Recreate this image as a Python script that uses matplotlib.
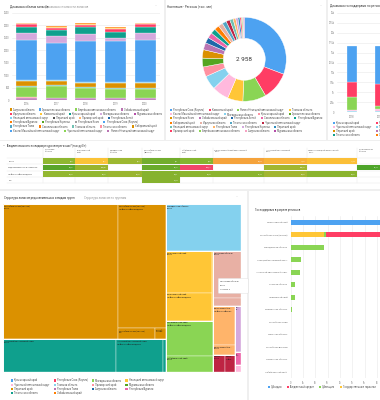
import math
import matplotlib
matplotlib.use("Agg")
import matplotlib.pyplot as plt
from matplotlib.patches import Rectangle, FancyBboxPatch
from matplotlib.font_manager import FontProperties

plt.rcParams['font.family'] = ['Roboto', 'DejaVu Sans']

# ---------------------------------------------------------------- data
years = ["2016", "2017", "2018", "2019", "2020"]
stack_regions = ["Ямало-Ненецкий автономный округ", "Тюменская область", "Чукотский автономный округ",
                 "Томская область", "Хабаровский край", "Ненецкий автономный округ",
                 "Республика Саха (Якутия)", "Магаданская область", "Красноярский край",
                 "Иркутская область", "Камчатский край", "Приморский край", "Республика Бурятия"]
reserves = [
    [85, 80, 80, 75, 80],
    [20, 20, 20, 20, 20],
    [430, 450, 400, 360, 360],
    [35, 35, 30, 30, 30],
    [190, 190, 170, 200, 190],
    [30, 30, 30, 30, 30],
    [1600, 1480, 1620, 1650, 1700],
    [290, 290, 290, 130, 270],
    [240, 240, 270, 230, 240],
    [120, 90, 110, 130, 120],
    [25, 20, 20, 20, 20],
    [25, 20, 20, 20, 20],
    [15, 15, 15, 15, 15],
]
legend1_regions = ["Амурская область", "Архангельская область", "Еврейская автономная область",
                   "Забайкальский край", "Иркутская область", "Камчатский край", "Красноярский край",
                   "Магаданская область", "Мурманская область", "Ненецкий автономный округ",
                   "Пермский край", "Приморский край", "Республика Алтай", "Республика Бурятия",
                   "Республика Карелия", "Республика Коми", "Республика Саха (Якутия)",
                   "Республика Тыва", "Сахалинская область", "Томская область", "Тюменская область",
                   "Хабаровский край", "Ханты-Мансийский автономный округ",
                   "Чукотский автономный округ", "Ямало-Ненецкий автономный округ"]

pop_regions = ["Республика Саха (Якутия)", "Камчатский край", "Ямало-Ненецкий автономный округ",
               "Томская область", "Ханты-Мансийский автономный округ", "Магаданская область",
               "Красноярский край", "Архангельская область", "Республика Коми", "Забайкальский край",
               "Республика Алтай", "Сахалинская область", "Республика Бурятия", "Хабаровский край",
               "Иркутская область", "Тюменская область", "Чукотский автономный округ",
               "Ненецкий автономный округ", "Республика Тыва", "Республика Карелия",
               "Пермский край", "Приморский край", "Еврейская автономная область",
               "Амурская область", "Мурманская область"]
pop_values = [910, 320, 265, 175, 190, 160, 112, 100, 96, 80, 65, 62, 58, 55, 52, 48, 44, 38,
              30, 26, 22, 18, 14, 10, 8]

gov_years = ["2018", "2019"]
gov_stack_regions = ["Томская область", "Чукотский автономный округ", "Магаданская область",
                     "Республика Саха (Якутия)", "Красноярский край"]
gov_stack_values = [
    [250, 250],
    [330, 500],
    [3300, 830],
    [3750, 5400],
    [9000, 9600],
]
group_legend_regions = ["Красноярский край", "Республика Саха (Якутия)", "Магаданская область",
                        "Ненецкий автономный округ", "Чукотский автономный округ", "Томская область",
                        "Приморский край", "Мурманская область", "Пермский край", "Республика Тыва",
                        "Амурская область", "Республика Бурятия", "Тюменская область",
                        "Забайкальский край"]

table_columns = ["Иркутская\nобласть", "Красноярский\nкрай", "Магаданская\nобласть",
                 "Республика Саха\n(Якутия)", "Забайкальский\nкрай",
                 "Ханты-Мансийский автономный\nокруг", "Чукотский автономный\nокруг",
                 "Ямало-Ненецкий автономный\nокруг", "Архангельская\nобласть"]
table_rows = ["Уголь", "Редкоземельные и стальные", "Нефть и нефтепродукты", "Газ"]
table_values = [
    [6.72, 8.67, 7.83, 3.21, 4.57, 12.54, 11.80, 11.34, None],
    [15.06, 190.28, None, 84.21, 566.67, None, 108.79, None, 14.30],
    [87.00, 86.02, 87.00, 88.81, 88.20, 88.49, 88.80, 89.80, None],
    [None, None, None, 64.80, None, None, None, None, None],
]
table_colors = [
    ["#8fb731", "#fbc337", "#9db831", "#72ad2d", "#84b52f", "#f5a33c", "#f8b13a", "#fbbf38", None],
    ["#59a52b", "#9ab42e", None, "#6aab2c", "#f2466a", None, "#a2b631", None, "#4ea52a"],
    ["#93b731", "#93b731", "#9ab530", "#86b22e", "#8bb42e", "#8bb42e", "#a2b631", "#8bb42e", None],
    [None, None, None, "#86b22e", None, None, None, None, None],
]

tm_regions = ["Республика Саха (Якутия)", "Чукотский автономный округ", "Магаданская область",
              "Красноярский край", "Забайкальский край", "Иркутская область",
              "Ханты-Мансийский автономный округ", "Камчатский край", "Республика Тыва",
              "Тюменская область", "Приморский край"]
tm_resources = [
    ["Уголь", "Нефть и нефтепродукты", "Газ", "Прочие"],
    ["Уголь", "Нефть и нефтепродукты", "Прочие"],
    ["Уголь"],
    ["Уголь", "Нефть и нефтепродукты", "Прочие"],
    ["Нефть и нефтепродукты", "Уголь"],
    ["Уголь", "Нефть и нефтепродукты"],
    ["Нефть и нефтепродукты", "Уголь"],
    ["Уголь", "Нефть и нефтепродукты"],
    ["Уголь"],
    ["Прочие"],
    ["Уголь"],
]
tm_values = [
    [1553, 592, 40, 12],
    [371, 156, 10],
    [353],
    [189, 129, 9],
    [169, 75],
    [130, 22],
    [84, 21],
    [20, 17],
    [29],
    [8],
    [4.5],
]

bar_regions = ["Красноярский край", "Республика Саха (Якутия)", "Магаданская область",
               "Ненецкий автономный округ", "Чукотский автономный округ", "Томская область",
               "Приморский край", "Мурманская область", "Республика Тыва", "Амурская область",
               "Республика Бурятия", "Тюменская область", "Забайкальский край"]
support_types = ["Субсидии", "Бюджетный кредит", "Субвенции", "Государственные гарантии"]
subsidii = [8.2, 0, 0, 0, 0, 0, 0, 0, 0, 0, 0, 0, 0]
kredit = [0, 5.0, 0, 0, 0, 0, 0, 0, 0, 0, 0, 0, 0]
subvencii = [0, 0.2, 2.7, 0.86, 0.78, 0.38, 0.32, 0.08, 0.05, 0.03, 0.01, 0.005, 0.003]
garantii = [0, 2.7, 0, 0, 0, 0, 0, 0, 0, 0, 0, 0, 0]
bar_ticks = ["0", "1k", "2k", "3k", "4k", "5k", "6k", "7k"]

# ---------------------------------------------------------------- styles
PAL = ['#4DA2F1', '#FF3D64', '#8AD554', '#FFC636', '#FFB9DD', '#84D1EE', '#FF91A1', '#54A520',
       '#DB9100', '#BA74B3', '#1F68A9', '#ED65A9', '#0FA08D', '#FF7E00', '#E8B0A4', '#52A6C5',
       '#BE2443', '#70C1B3', '#FFB46A', '#D4A9DD', '#2B8CBE', '#FF3D64', '#8AD554', '#F7A2C3',
       '#B54DA9']
legend1_colors = ['#DB9100', '#4DA2F1', '#8AD554', '#BA74B3', '#FF3D64', '#FFC636', '#0FA08D',
                  '#D4A9DD', '#B54DA9', '#84D1EE', '#555555', '#FFB46A', '#1F68A9', '#FF7E00',
                  '#54A520', '#A0A0A0', '#4DA2F1', '#52A6C5', '#FF7E00', '#70C1B3', '#FF91A1',
                  '#DB9100', '#4DA2F1', '#8AD554', '#BA74B3']
stack_colors = ['#BA74B3', '#FF91A1', '#8AD554', '#70C1B3', '#DB9100', '#84D1EE', '#4DA2F1',
                '#D4A9DD', '#0FA08D', '#FF3D64', '#FFC636', '#FFB46A', '#FF7E00']
gov_stack_colors = ['#84D1EE', '#FFB9DD', '#8AD554', '#FF3D64', '#4DA2F1']
tm_colors = ['#DB9100', '#0FA08D', '#84D1EE', '#FFC636', '#8AD554', '#E8B0A4', '#FFB46A',
             '#BE2443', '#D4A9DD', '#ED65A9', '#FFB9DD']
support_colors = ['#4DA2F1', '#FF3D64', '#8AD554', '#FFC636']

W, H = 380, 400
fig = plt.figure(figsize=(3.8, 4.0), dpi=100)
fig.patch.set_facecolor('#efefef')


def pos(x0, y0, x1, y1):
    return [x0 / W, 1 - y1 / H, (x1 - x0) / W, (y1 - y0) / H]


L = fig.add_axes([0, 0, 1, 1])
L.set_xlim(0, W)
L.set_ylim(H, 0)
L.axis('off')
renderer = fig.canvas.get_renderer()


def text_w(s, fs):
    fp = FontProperties(family=['Roboto', 'DejaVu Sans'], size=fs)
    w, h, d = renderer.get_text_width_height_descent(s, fp, ismath=False)
    return w


def fit(s, maxw, fs):
    if text_w(s, fs) <= maxw:
        return s
    for n in range(len(s) - 1, 0, -1):
        c = s[:n].rstrip() + "…"
        if text_w(c, fs) <= maxw:
            return c
    return None


for (x0, y0, x1, y1) in [(0, 0, 163.5, 139.5), (165.5, 0, 325.5, 139.5), (327.5, 0, 381, 139.5),
                         (0, 141, 381, 188.5), (0, 190.5, 246.5, 401), (248.5, 190.5, 381, 401)]:
    L.add_patch(Rectangle((x0, y0), x1 - x0, y1 - y0, facecolor='white', edgecolor='none', zorder=0))

TXT = '#333333'
GREY = '#9a9a9a'
LEG_FS = 1.8


def title(x, y, s, color=TXT, fs=2.2):
    return L.text(x, y, s, fontsize=fs, color=color, va='center', ha='left', zorder=5)


def dots(x, y):
    L.text(x, y, "···", fontsize=2.6, color='#999999', va='center', ha='center', zorder=5)


def marker(x, y, c, m=2.1):
    L.add_patch(Rectangle((x, y - m / 2), m, m, facecolor=c, edgecolor='none', zorder=5))


def flow_legend(names, colors, x0, y0, xmax, dy, fs=LEG_FS, gap=4.6):
    x, y = x0, y0
    for n, c in zip(names, colors):
        item = 3.2 + text_w(n, fs)
        if x + item > xmax and x > x0:
            x = x0
            y += dy
        marker(x, y, c)
        L.text(x + 3.2, y, n, fontsize=fs, color='#555555', va='center', ha='left', zorder=5)
        x += item + gap


def column_offsets(names, ncols, fs=LEG_FS, gap=4.2):
    widths = [0] * ncols
    for i, n in enumerate(names):
        widths[i % ncols] = max(widths[i % ncols], 3.2 + text_w(n, fs))
    offs, acc = [], 0
    for w in widths:
        offs.append(acc)
        acc += w + gap
    return offs


def col_legend(names, colors, x0, offsets, y0, dy, fs=LEG_FS):
    for i, (n, c) in enumerate(zip(names, colors)):
        x = x0 + offsets[i % len(offsets)]
        y = y0 + (i // len(offsets)) * dy
        if x >= W:
            continue
        marker(x, y, c)
        L.text(x + 3.2, y, n, fontsize=fs, color='#555555', va='center', ha='left', zorder=5)


def style(ax):
    ax.set_facecolor('none')
    for s in ax.spines.values():
        s.set_visible(False)
    ax.tick_params(length=0, labelsize=1.8, labelcolor='#808080', pad=1.7)
    ax.set_axisbelow(True)


# ---------------------------------------------------------------- panel 1
title(10, 6, "Динамика объема запасов")
title(45, 6, "Динамика стоимости запасов", color=GREY)
dots(156, 6)
ax1 = fig.add_axes(pos(11.9, 12.7, 159.9, 100.0))
style(ax1)
bottom = [0] * len(years)
for vals, col in zip(reserves, stack_colors):
    ax1.bar(range(len(years)), vals, bottom=bottom, width=0.71, color=col,
            edgecolor='white', linewidth=0.2)
    bottom = [b + v for b, v in zip(bottom, vals)]
ax1.set_xlim(-0.5, len(years) - 0.5)
ax1.set_ylim(0, 3500)
ax1.set_yticks(range(0, 3501, 500))
ax1.set_xticks(range(len(years)))
ax1.set_xticklabels(years)
ax1.grid(axis='y', color='#e9e9e9', lw=0.4)
flow_legend(legend1_regions, legend1_colors, 10, 109.5, 162, 4.25)

# ---------------------------------------------------------------- panel 2 donut
title(167, 6, "Население - Регионы (тыс. чел)")
dots(321.5, 6)
ax2 = fig.add_axes(pos(202.3, 17.3, 286.3, 101.3))
ax2.pie(pop_values, colors=PAL[:len(pop_values)], startangle=90, counterclock=False, radius=1,
        wedgeprops=dict(width=0.5, edgecolor='white', linewidth=0.3))
ax2.set_xlim(-1, 1)
ax2.set_ylim(-1, 1)
ax2.set_aspect('equal')
total = sum(pop_values)
ax2.text(0, 0, f"{total:,}".replace(",", " "), fontsize=4.6, color='#333333', ha='center', va='center')
flow_legend(pop_regions, PAL[:len(pop_regions)], 170, 110.0, 324, 4.2)

# ---------------------------------------------------------------- panel 3
title(329.5, 6, "Динамика господдержки по регионам")
ax3 = fig.add_axes(pos(337, 12.7, 380, 112.3))
style(ax3)
bottom = [0] * len(gov_years)
for vals, col in zip(gov_stack_values, gov_stack_colors):
    ax3.bar(range(len(gov_years)), vals, bottom=bottom, width=0.374, color=col,
            edgecolor='white', linewidth=0.2)
    bottom = [b + v for b, v in zip(bottom, vals)]
ax3.set_xlim(-0.537, -0.537 + 43 / 29.4)
ax3.set_ylim(0, 25000)
ax3.set_yticks(range(0, 25001, 2500))
ax3.set_yticklabels(["0"] + [(f"{v/1000:g}k") for v in range(2500, 25001, 2500)])
ax3.set_xticks(range(len(gov_years)))
ax3.set_xticklabels(gov_years)
ax3.grid(axis='y', color='#e9e9e9', lw=0.4)
group_offsets = column_offsets(group_legend_regions, 4)
col_legend(group_legend_regions, PAL[:len(group_legend_regions)], 333.3, group_offsets, 122.7, 4.0)

# ---------------------------------------------------------------- table
L.text(3, 146, "–", fontsize=2.2, color='#555555', va='center', ha='left', zorder=5)
title(7, 146, "Бюджетоемкость по видам ресурсов в регионах* (тыс.руб/т)", fs=2.0)
col_edges = [43, 75, 108, 142, 180, 213, 264, 307, 357, 400]
row_edges = [157.8, 164.2, 170.6, 177.0, 183.4]
label_x0 = 7
for i, name in enumerate(table_columns):
    L.text(col_edges[i] + 1.5, 149.5, name, fontsize=1.5, color='#666666', va='top', ha='left',
           linespacing=1.25, zorder=5)
for e in col_edges[:-1]:
    L.plot([e, e], [148, row_edges[-1]], color='#e6e6e6', lw=0.3, zorder=4)
for e in row_edges:
    L.plot([label_x0, W], [e, e], color='#e6e6e6', lw=0.3, zorder=4)
for r, rname in enumerate(table_rows):
    yc = (row_edges[r] + row_edges[r + 1]) / 2
    L.text(label_x0 + 1.5, yc, rname, fontsize=1.5, color='#555555', va='center', ha='left', zorder=5)
    for c, v in enumerate(table_values[r]):
        col = table_colors[r][c]
        if v is None or col is None:
            continue
        x0, x1 = col_edges[c], col_edges[c + 1]
        L.add_patch(Rectangle((x0 + 0.3, row_edges[r] + 0.3), x1 - x0 - 0.6,
                              row_edges[r + 1] - row_edges[r] - 0.6, facecolor=col,
                              edgecolor='none', zorder=4))
        L.text(min(x1, W) - 1.8, yc, f"{v:.2f}".replace('.', ','), fontsize=1.4, color='white',
               va='center', ha='right', zorder=5)

# ---------------------------------------------------------------- treemap (Highcharts squarified)
NAN = float('nan')


def _div(a, b):
    if a != a or b != b:
        return NAN
    if b == 0:
        return math.inf if a > 0 else NAN
    return a / b


def _ar(w, h):
    r1, r2 = _div(w, h), _div(h, w)
    if r1 != r1 or r2 != r2:
        return NAN
    return max(r1, r2)


class Group:
    def __init__(self, h, w, d, plot):
        self.height, self.width, self.plot, self.direction = h, w, plot, d
        self.total = 0
        self.nW = self.lW = self.nH = self.lH = 0
        self.elArr = []
        self.lP = dict(total=0, lH=0, nH=0, lW=0, nW=0, nR=0, lR=0)

    def add(self, el):
        lp = self.lP
        lp['total'] = self.elArr[-1] if self.elArr else NAN
        self.total += el
        if self.direction == 0:
            self.lW = self.nW
            lp['lH'] = _div(lp['total'], self.lW)
            lp['lR'] = _ar(self.lW, lp['lH'])
            self.nW = self.total / self.height
            lp['nH'] = _div(lp['total'], self.nW)
            lp['nR'] = _ar(self.nW, lp['nH'])
        else:
            self.lH = self.nH
            lp['lW'] = _div(lp['total'], self.lH)
            lp['lR'] = _ar(lp['lW'], self.lH)
            self.nH = self.total / self.width
            lp['nW'] = _div(lp['total'], self.nH)
            lp['nR'] = _ar(lp['nW'], self.nH)
        self.elArr.append(el)

    def reset(self):
        self.nW = self.lW = 0
        self.elArr = []
        self.total = 0


def calc_points(last, g, out):
    plot = g.plot
    gW, gH = (g.nW, g.nH) if last else (g.lW, g.lH)
    keep = None if last else g.elArr[-1]
    end = len(g.elArr) - 1
    for i, p in enumerate(g.elArr):
        if last or i < end:
            if g.direction == 0:
                pw, ph = gW, p / gW
            else:
                ph = gH
                pw = p / ph
            out.append((plot['x'], plot['y'], pw, ph))
            if g.direction == 0:
                plot['y'] += ph
            else:
                plot['x'] += pw
    g.reset()
    if g.direction == 0:
        g.width -= gW
    else:
        g.height -= gH
    par = plot['parent']
    plot['y'] = par['y'] + (par['h'] - g.height)
    plot['x'] = par['x'] + (par['w'] - g.width)
    g.direction = 1 - g.direction
    if not last:
        g.add(keep)


def squarified(x, y, w, h, values):
    tot = sum(values)
    out = []
    plot = dict(x=x, y=y, parent=dict(x=x, y=y, w=w, h=h))
    g = Group(h, w, 0, plot)
    for i, v in enumerate(values):
        g.add(w * h * v / tot)
        if g.lP['nR'] > g.lP['lR']:
            calc_points(False, g, out)
        if i == len(values) - 1:
            calc_points(True, g, out)
    return out


title(4, 197.5, "Структура запасов редкоземельных и видам групп", fs=2.1)
title(84, 197.5, "Структура запасов по группам", color=GREY, fs=2.1)
dots(237, 197.5)
TX0, TY0, TX1, TY1 = 3.3, 204.3, 241.0, 372.3
TM_FS = 1.55
totals = [sum(v) for v in tm_values]
order = sorted(range(len(tm_regions)), key=lambda i: -totals[i])
region_rects = squarified(TX0, TY0, TX1 - TX0, TY1 - TY0, [totals[i] for i in order])
tip_rect = None
for k, i in enumerate(order):
    rx, ry, rw, rh = region_rects[k]
    children = sorted(zip(tm_resources[i], tm_values[i]), key=lambda t: -t[1])
    sub = squarified(rx, ry, rw, rh, [v for _, v in children])
    for (res, v), (sx, sy, sw, sh) in zip(children, sub):
        L.add_patch(Rectangle((sx, sy), sw, sh, facecolor=tm_colors[i], edgecolor='white',
                              lw=0.25, zorder=2))
        if sw > 4.5 and sh > 8:
            l1 = fit(tm_regions[i], sw - 2.2, TM_FS)
            l2 = fit(res, sw - 2.2, TM_FS)
            if l1 and l2:
                L.text(sx + 1.0, sy + 1.2, f"{l1}\n{l2}", fontsize=TM_FS, color='#1e1e1e',
                       va='top', ha='left', linespacing=1.3, zorder=3)
        if tm_regions[i] == "Иркутская область" and res == "Уголь":
            tip_rect = (sx, sy, sw, sh, tm_regions[i], res, v)
    L.add_patch(Rectangle((rx, ry), rw, rh, fill=False, edgecolor='white', lw=0.7, zorder=3))

if tip_rect is not None:
    sx, sy, sw, sh, reg, res, v = tip_rect
    tx, ty = sx + 5, sy + 27
    L.add_patch(FancyBboxPatch((tx, ty), 30, 15, boxstyle="round,pad=0,rounding_size=1",
                               facecolor='white', edgecolor='#dcdcdc', lw=0.3, zorder=8))
    L.text(tx + 2, ty + 3, reg, fontsize=1.5, color='#444444', va='center', ha='left', zorder=9)
    L.text(tx + 2, ty + 7.2, res, fontsize=1.5, color='#444444', va='center', ha='left', zorder=9)
    L.text(tx + 2, ty + 11.4, f"{v:g} тыс. т", fontsize=1.5, color='#222222', va='center',
           ha='left', zorder=9)

col_legend(group_legend_regions, PAL[:len(group_legend_regions)], 11, group_offsets, 380.5, 4.1)

# ---------------------------------------------------------------- horizontal bars
title(255, 210, "Господдержка в разрезе регионов", fs=2.0)
ax4 = fig.add_axes(pos(290.7, 215.75, 380, 378.25))
style(ax4)
left = [0] * len(bar_regions)
for vals, col in [(garantii, support_colors[3]), (subvencii, support_colors[2]),
                  (kredit, support_colors[1]), (subsidii, support_colors[0])]:
    ax4.barh(range(len(bar_regions)), vals, left=left, height=0.4, color=col, lw=0)
    left = [a + b for a, b in zip(left, vals)]
ax4.set_xlim(0, (380 - 290.7) / 12.3)
ax4.set_ylim(len(bar_regions) - 0.5, -0.5)
ax4.set_yticks(range(len(bar_regions)))
ax4.set_yticklabels(bar_regions)
ax4.set_xticks(range(len(bar_ticks)))
ax4.set_xticklabels(bar_ticks)
ax4.tick_params(axis='y', labelsize=1.6, labelcolor='#707070', pad=2.5)
ax4.grid(axis='x', color='#e9e9e9', lw=0.4)
flow_legend(support_types, support_colors, 268, 386.7, 420, 4.2)

fig.savefig("out.png", dpi=100, facecolor=fig.get_facecolor())
